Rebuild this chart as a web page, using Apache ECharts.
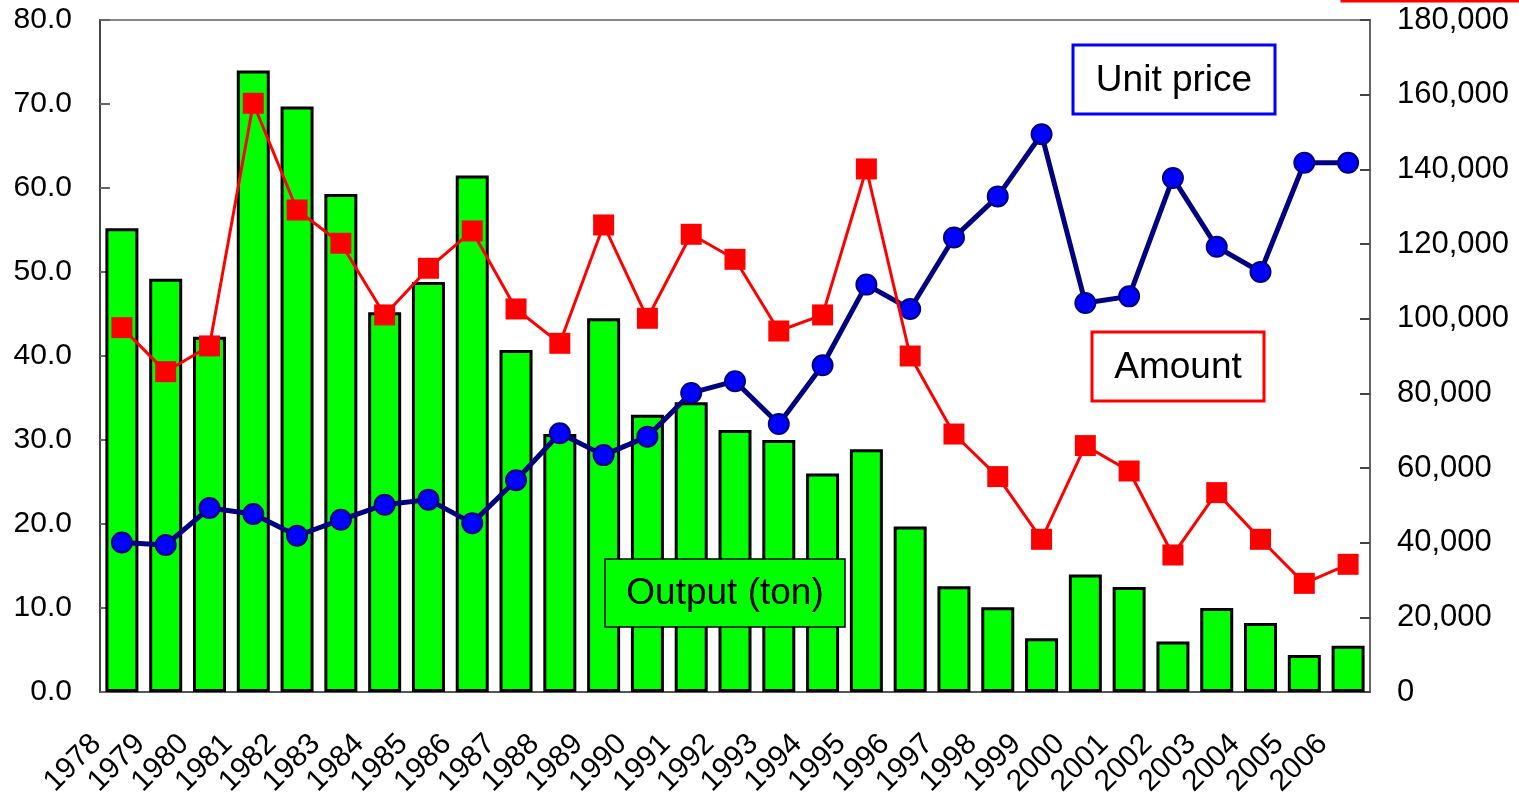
<!DOCTYPE html>
<html>
<head>
<meta charset="utf-8">
<style>
  html, body { margin: 0; padding: 0; background: #fff; }
  #chart { width: 1519px; height: 798px; }
</style>
<script src="https://cdn.jsdelivr.net/npm/echarts@6/dist/echarts.min.js"></script>
</head>
<body>
<div id="chart"></div>
<script>
// years on the category axis
const years = ["1978", "1979", "1980", "1981", "1982", "1983", "1984", "1985", "1986", "1987",
  "1988", "1989", "1990", "1991", "1992", "1993", "1994", "1995", "1996", "1997",
  "1998", "1999", "2000", "2001", "2002", "2003", "2004", "2005", "2006"];

// Output (ton), left axis
const output = [55.2, 49.2, 42.3, 74.0, 69.7, 59.3, 45.2, 48.8, 61.5, 40.7,
  30.7, 44.5, 33.0, 34.5, 31.2, 30.0, 26.0, 28.9, 19.7, 12.6,
  10.1, 6.4, 14.0, 12.5, 6.0, 10.0, 8.2, 4.4, 5.5];

// Unit price, left axis
const unitPrice = [17.8, 17.5, 21.9, 21.2, 18.6, 20.5, 22.3, 22.9, 20.1, 25.2,
  30.8, 28.2, 30.4, 35.6, 37.0, 31.9, 38.9, 48.5, 45.6, 54.1,
  59.0, 66.4, 46.3, 47.1, 61.2, 53.0, 50.0, 63.0, 63.0];

// Amount, right axis
const amount = [97600, 85800, 92700, 157700, 129100, 120200, 101000, 113500, 123500, 102600,
  93400, 125100, 100100, 122600, 115900, 96700, 101000, 140100, 90000, 69100,
  57700, 40900, 66000, 59200, 36700, 53400, 40900, 29100, 34200];

const leftTicks = { min: 0, max: 80, interval: 10 };
const rightTicks = { min: 0, max: 180000, interval: 20000 };

const font = "Arial, 'Liberation Sans', sans-serif";

const chart = echarts.init(document.getElementById("chart"));

function labelBox(x, y, w, h, text, stroke, fill, lw) {
  return {
    type: "group",
    children: [
      { type: "rect", z: 100, shape: { x: x, y: y, width: w, height: h },
        style: { fill: fill, stroke: stroke, lineWidth: lw } },
      { type: "text", z: 101, x: x + w / 2, y: y + h / 2 + 1,
        style: { text: text, fontSize: 37, fontFamily: font, fill: "#000",
          align: "center", verticalAlign: "middle" } }
    ]
  };
}

chart.setOption({
  animation: false,
  backgroundColor: "#fff",
  grid: { left: 100, right: 149, top: 20, bottom: 106, show: true,
    outerBoundsMode: "none",
    borderColor: "#888", borderWidth: 2, backgroundColor: "transparent" },
  xAxis: {
    type: "category",
    data: years,
    boundaryGap: true,
    axisLine: { lineStyle: { color: "#555", width: 2 } },
    axisTick: { inside: true, length: 5, lineStyle: { color: "#777", width: 2 } },
    axisLabel: { interval: 0, rotate: 45, margin: 22, padding: [0, 36, 0, 0],
      fontSize: 30, fontFamily: font, color: "#000" },
    splitLine: { show: false }
  },
  yAxis: [
    {
      type: "value",
      min: leftTicks.min, max: leftTicks.max, interval: leftTicks.interval,
      axisLine: { show: true, lineStyle: { color: "#444", width: 2 } },
      axisTick: { show: true, inside: true, length: 10, lineStyle: { color: "#666", width: 2 } },
      axisLabel: { margin: 28, fontSize: 30, fontFamily: font, color: "#000",
        formatter: v => v.toFixed(1) },
      splitLine: { show: false }
    },
    {
      type: "value",
      position: "right",
      min: rightTicks.min, max: rightTicks.max, interval: rightTicks.interval,
      axisLine: { show: true, lineStyle: { color: "#666", width: 2 } },
      axisTick: { show: true, inside: true, length: 10, lineStyle: { color: "#444", width: 2 } },
      axisLabel: { margin: 27, fontSize: 31, fontFamily: font, color: "#000",
        formatter: v => v.toLocaleString("en-US") },
      splitLine: { show: false }
    }
  ],
  series: [
    {
      name: "Output (ton)",
      type: "bar",
      yAxisIndex: 0,
      data: output,
      barWidth: 33,
      itemStyle: { color: "#00ff00", borderColor: "#000", borderWidth: 3 },
      z: 2
    },
    {
      name: "Unit price",
      type: "line",
      yAxisIndex: 0,
      data: unitPrice,
      symbol: "circle",
      symbolSize: 20,
      lineStyle: { color: "#000080", width: 5 },
      itemStyle: { color: "#0000ff", borderColor: "#000080", borderWidth: 2 },
      z: 3
    },
    {
      name: "Amount",
      type: "line",
      yAxisIndex: 1,
      data: amount,
      symbol: "rect",
      symbolSize: 21,
      lineStyle: { color: "#ff0000", width: 3 },
      itemStyle: { color: "#ff0000", borderWidth: 0 },
      z: 4
    }
  ],
  graphic: [
    labelBox(1073, 45, 202, 69, "Unit price", "#0000ff", "#fff", 3),
    labelBox(1092, 332, 172, 69, "Amount", "#ff0000", "#fff", 3),
    labelBox(605, 559, 240, 68, "Output (ton)", "#000", "#00ff00", 1.5),
    { type: "rect", z: 100, shape: { x: 1342, y: -60, width: 300, height: 61 },
      style: { fill: "#fff", stroke: "#ff0000", lineWidth: 3 } }
  ]
});
</script>
</body>
</html>
